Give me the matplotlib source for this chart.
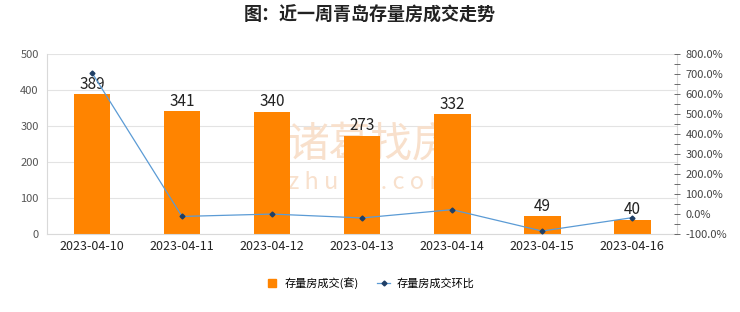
#!/usr/bin/env python3
"""
Weekly Qingdao second-hand housing deals: bars for volume, line for day-over-day change.
"""

import matplotlib
matplotlib.use("Agg")
import matplotlib.pyplot as plt
from matplotlib.lines import Line2D
from matplotlib.ticker import MultipleLocator, FuncFormatter

plt.rcParams['font.family'] = ['Noto Sans CJK SC', 'DejaVu Sans']

dates = ['2023-04-10', '2023-04-11', '2023-04-12', '2023-04-13',
         '2023-04-14', '2023-04-15', '2023-04-16']
deals = [389, 341, 340, 273, 332, 49, 40]
change_pct = [706.0, -12.3, -0.3, -19.7, 21.6, -85.2, -18.4]

bar_color = '#FF8400'
line_color = '#5B9BD5'
marker_color = '#1F3F66'
grid_color = '#E3E3E3'
mark_color = '#F8E0CC'


def main():
    fig = plt.figure(figsize=(7.4, 3.12), dpi=100)
    ax = fig.add_axes([0.0635, 0.25, 0.8515, 0.577])
    x = list(range(len(dates)))

    # faint watermark, kept behind the bars
    ax.text(0.5, 0.535, '诸葛找房', transform=fig.transFigure, ha='center',
            va='center', fontsize=30, color=mark_color, zorder=1)
    ax.text(0.5, 0.415, 'z h u g e . c o m', transform=fig.transFigure,
            ha='center', va='center', fontsize=17, color=mark_color, zorder=1)

    bars = ax.bar(x, deals, width=0.41, color=bar_color, zorder=2)
    for b, v in zip(bars, deals):
        ax.text(b.get_x() + b.get_width() / 2, v + 4, str(v), ha='center',
                va='bottom', fontsize=11, color='#222222', zorder=4)

    ax.set_xlim(-0.5, len(dates) - 0.5)
    ax.set_ylim(0, 500)
    ax.yaxis.set_major_locator(MultipleLocator(100))
    ax.grid(axis='y', color=grid_color, linewidth=0.8, zorder=0)
    ax.set_axisbelow(True)
    ax.set_xticks(x)
    ax.set_xticklabels(dates, fontsize=9, color='#222222')
    ax.tick_params(axis='x', length=0, pad=4)
    ax.tick_params(axis='y', length=0, labelsize=8, labelcolor='#555555', pad=6)
    for side in ['left', 'bottom', 'right', 'top']:
        ax.spines[side].set_color('#D9D9D9')
    ax.spines['top'].set_visible(False)
    ax.patch.set_alpha(0)

    ax2 = ax.twinx()
    ax2.plot(x, change_pct, color=line_color, linewidth=0.9, marker='D',
             markersize=2.5, markerfacecolor=marker_color,
             markeredgecolor=marker_color, zorder=3)
    ax2.set_ylim(-100, 800)
    ax2.yaxis.set_major_locator(MultipleLocator(100))
    ax2.yaxis.set_minor_locator(MultipleLocator(50))
    ax2.yaxis.set_major_formatter(FuncFormatter(lambda v, p: f'{v:.1f}%'))
    ax2.tick_params(axis='y', which='both', direction='inout', length=4,
                    width=0.6, color='#555555', labelsize=8,
                    labelcolor='#444444', pad=4)
    for side in ['left', 'bottom', 'right', 'top']:
        ax2.spines[side].set_visible(False)

    fig.text(0.5, 0.95, '图：近一周青岛存量房成交走势', ha='center', va='center',
             fontsize=13, fontweight='bold', color='#222222')

    handles = [
        Line2D([], [], linestyle='none', marker='s', markersize=6,
               color=bar_color),
        Line2D([], [], color=line_color, linewidth=0.9, marker='D',
               markersize=2.5, markerfacecolor=marker_color,
               markeredgecolor=marker_color),
    ]
    fig.legend(handles, ['存量房成交(套)', '存量房成交环比'], loc='center',
               bbox_to_anchor=(0.5, 0.093), ncol=2, frameon=False,
               fontsize=8, handlelength=1.2, handletextpad=0.6,
               columnspacing=1.6)

    fig.savefig('out.png', dpi=100)


if __name__ == "__main__":
    main()
